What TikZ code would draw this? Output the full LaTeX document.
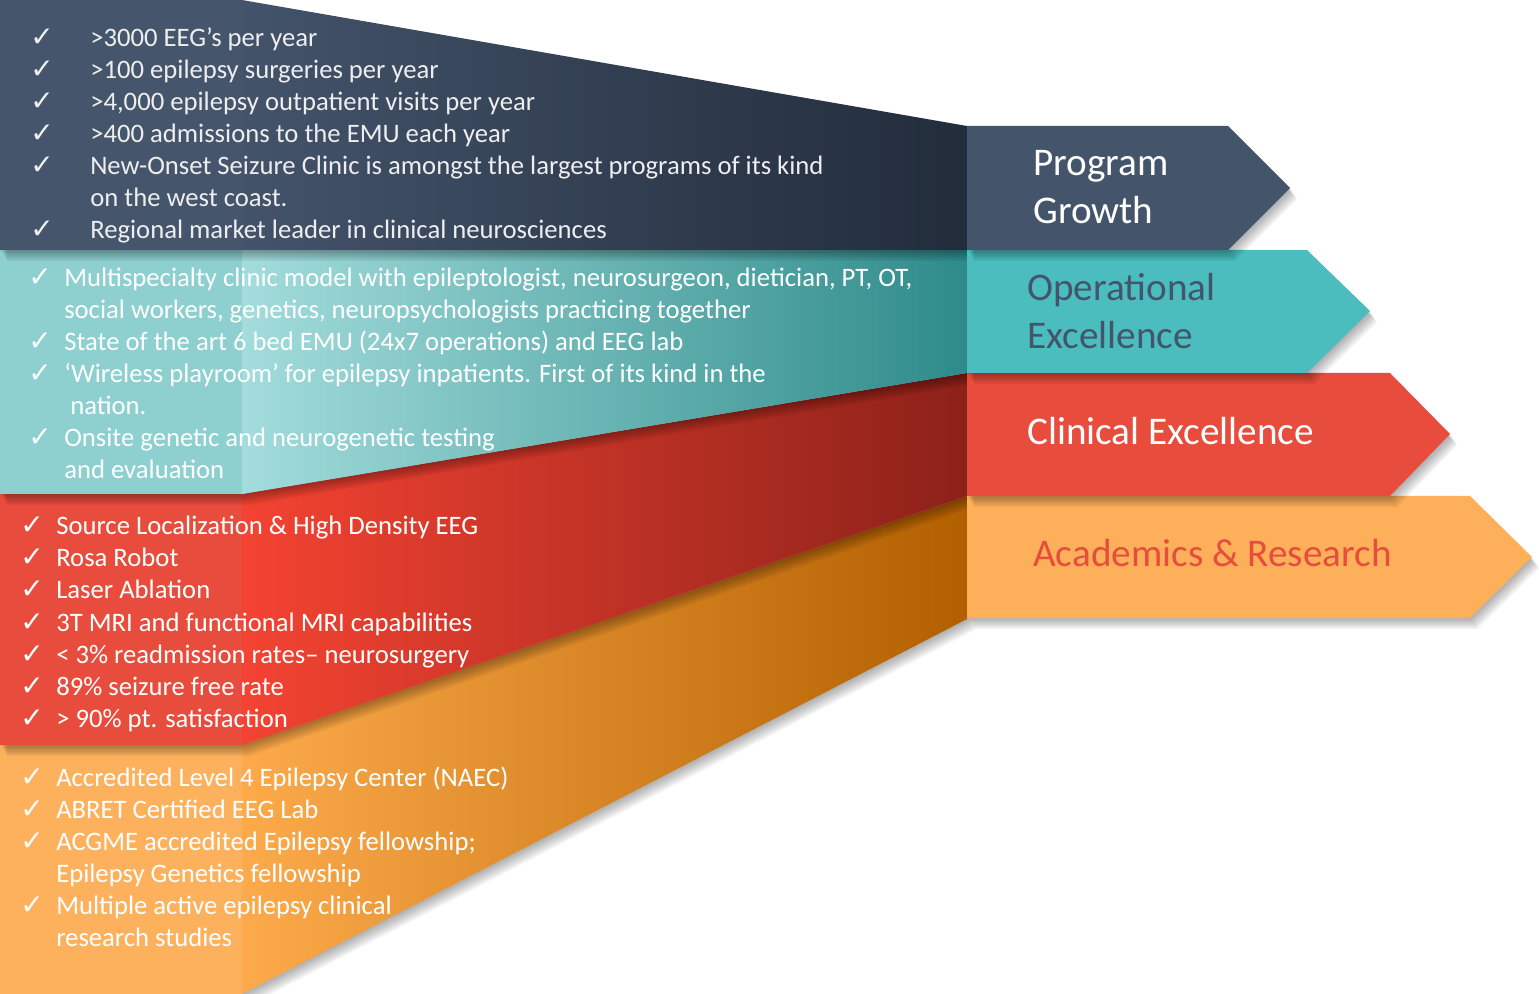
\documentclass[tikz,border=0pt]{standalone}
\usepackage{fontspec}
\setmainfont{Carlito}
\newfontfamily\symf{DejaVu Sans}
\definecolor{dkRib}{HTML}{44546A}
\definecolor{dkLeft}{HTML}{45556C}
\definecolor{dkA}{HTML}{43536A}
\definecolor{dkB}{HTML}{222C3B}
\definecolor{tlRib}{HTML}{4BBDBF}
\definecolor{tlLeft}{HTML}{8ECFCF}
\definecolor{tlA}{HTML}{A3DCDC}
\definecolor{tlB}{HTML}{2E8B8A}
\definecolor{rdRib}{HTML}{E74C3C}
\definecolor{rdLeft}{HTML}{E84C3D}
\definecolor{rdA}{HTML}{F44332}
\definecolor{rdM}{HTML}{D6392B}
\definecolor{rdB}{HTML}{8C2119}
\definecolor{orRib}{HTML}{FDAF5A}
\definecolor{orLeft}{HTML}{FDB15D}
\definecolor{orA}{HTML}{FDAA4B}
\definecolor{orM}{HTML}{EC8309}
\definecolor{orB}{HTML}{B25F00}
\definecolor{txtLight}{HTML}{EEEEEE}
\newcommand\softshadow[1]{%
  \foreach \s in {1,...,8}{\fill[black,opacity=0.045,shift={(\s*0.9,\s*1.4)}] #1;}}
\tikzset{
  ptext/.style={anchor=base west,inner sep=0pt,font=\fontsize{20}{24}\selectfont,text=white},
  pcheck/.style={anchor=base west,inner sep=0pt,font=\symf\fontsize{21}{24}\selectfont,text=white},
  rtext/.style={anchor=base west,inner sep=0pt,font=\fontsize{29.4}{35}\selectfont}
}
\begin{document}
\begin{tikzpicture}[x=0.75pt,y=-0.75pt]
\useasboundingbox (0,0) rectangle (1539,994);
% ---------- panels (bottom to top) ----------
% orange
\softshadow{(0,745) -- (242,745) -- (967,496) -- (967,619) -- (242,994) -- (0,994) -- cycle}
\fill[orLeft] (0,745) rectangle (242,994);
\shade[left color=orA,middle color=orM,right color=orB] (242,745) -- (967,496) -- (967,619) -- (242,994) -- cycle;
% red
\softshadow{(0,494) -- (242,494) -- (967,373) -- (967,496) -- (242,745) -- (0,745) -- cycle}
\fill[rdLeft] (0,494) rectangle (242,745);
\shade[left color=rdA,middle color=rdM,right color=rdB] (242,494) -- (967,373) -- (967,496) -- (242,745) -- cycle;
% teal
\softshadow{(0,250) -- (967,250) -- (967,373) -- (242,494) -- (0,494) -- cycle}
\fill[tlLeft] (0,250) rectangle (242,494);
\shade[left color=tlA,right color=tlB] (242,250) -- (967,250) -- (967,373) -- (242,494) -- cycle;
% dark
\softshadow{(0,0) -- (242,0) -- (967,126) -- (967,250) -- (0,250) -- cycle}
\fill[dkLeft] (0,0) rectangle (242,250);
\shade[left color=dkA,right color=dkB] (242,0) -- (967,126) -- (967,250) -- (242,250) -- cycle;
% ---------- ribbons ----------
\softshadow{(967,496) -- (1470,496) -- (1532,557) -- (1470,618) -- (967,618) -- cycle}
\fill[orRib] (967,496) -- (1470,496) -- (1532,557) -- (1470,618) -- (967,618) -- cycle;
\softshadow{(967,373) -- (1390,373) -- (1450,434) -- (1390,496) -- (967,496) -- cycle}
\fill[rdRib] (967,373) -- (1390,373) -- (1450,434) -- (1390,496) -- (967,496) -- cycle;
\softshadow{(967,250) -- (1307,250) -- (1370,311) -- (1307,373) -- (967,373) -- cycle}
\fill[tlRib] (967,250) -- (1307,250) -- (1370,311) -- (1307,373) -- (967,373) -- cycle;
\softshadow{(967,126) -- (1228,126) -- (1290,188) -- (1228,250) -- (967,250) -- cycle}
\fill[dkRib] (967,126) -- (1228,126) -- (1290,188) -- (1228,250) -- (967,250) -- cycle;
% ---------- ribbon labels ----------
\node[rtext,text=white] (pg1) at (1033,176) {Program};
\node[rtext,text=white] (pg2) at (1033,224) {Growth};
\node[rtext,text=dkRib] (oe1) at (1027,301) {Operational};
\node[rtext,text=dkRib] (oe2) at (1027,349) {Excellence};
\node[rtext,text=white] (ce) at (1027,445) {Clinical Excellence};
\node[rtext,text=rdRib] (ar) at (1033,567) {Academics \& Research};
% ---------- panel texts ----------
\foreach \y [count=\i] in {47,79,111,143,175,239}
  \node[pcheck,text=txtLight] (dc\i) at (30,\y) {✓};
\foreach \y/\t [count=\i] in {47/{>3000 EEG’s per year},79/{>100 epilepsy surgeries per year},111/{>4,000 epilepsy outpatient visits per year},143/{>400 admissions to the EMU each year},175/{New-Onset Seizure Clinic is amongst the largest programs of its kind},207/{on the west coast.},239/{Regional market leader in clinical neurosciences}}
  \node[ptext,text=txtLight] (dt\i) at (90,\y) {\t};
\foreach \y [count=\i] in {287,351,383,447}
  \node[pcheck] (tc\i) at (28,\y) {✓};
\foreach \y/\t [count=\i] in {287/{Multispecialty clinic model with epileptologist, neurosurgeon, dietician, PT, OT,},319/{social workers, genetics, neuropsychologists practicing together},351/{State of the art 6 bed EMU (24x7 operations) and EEG lab},383/{‘Wireless playroom’ for epilepsy inpatients. First of its kind in the},447/{Onsite genetic and neurogenetic testing},479/{and evaluation}}
  \node[ptext] (tt\i) at (64,\y) {\t};
\node[ptext] (tt7) at (70,415) {nation.};
\foreach \y [count=\i] in {535,567,599,631,663,695,727}
  \node[pcheck] (rc\i) at (20,\y) {✓};
\foreach \y/\t [count=\i] in {535/{Source Localization \& High Density EEG},567/{Rosa Robot},599/{Laser Ablation},631/{3T MRI and functional MRI capabilities},663/{< 3\% readmission rates– neurosurgery},695/{89\% seizure free rate},727/{> 90\% pt. satisfaction}}
  \node[ptext] (rt\i) at (56,\y) {\t};
\foreach \y [count=\i] in {786,818,850,914}
  \node[pcheck] (oc\i) at (20,\y) {✓};
\foreach \y/\t [count=\i] in {786/{Accredited Level 4 Epilepsy Center (NAEC)},818/{ABRET Certified EEG Lab},850/{ACGME accredited Epilepsy fellowship;},882/{Epilepsy Genetics fellowship},914/{Multiple active epilepsy clinical},946/{research studies}}
  \node[ptext] (ot\i) at (56,\y) {\t};
\end{tikzpicture}
\end{document}
